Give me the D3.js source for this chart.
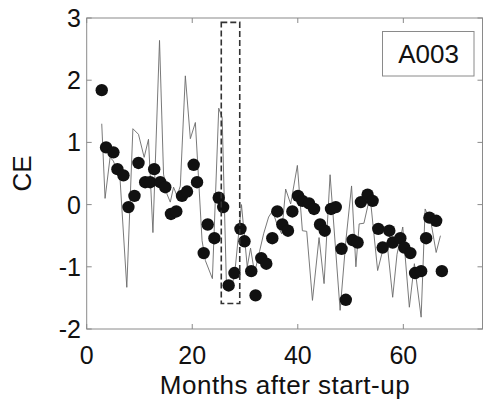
<!DOCTYPE html>
<meta charset="utf-8">
<style>
body { margin: 0; background: #fff; }
text { font-family: "Liberation Sans", Arial, sans-serif; fill: #111; }
</style>
<body>
<script src="https://d3js.org/d3.v7.min.js"></script>
<script>

// monthly CE values (thin line)
var lineMonths = [2.85, 3.48, 4.43, 5.06, 6.33, 7.6, 8.75, 9.81, 10.89, 11.71, 12.55, 13.8, 14.56, 15.21,
  15.84, 16.46, 17.11, 17.74, 18.69, 19.64, 20.59, 21.86, 22.49, 23.82, 25.02, 25.67, 26.48, 27.24, 28.0,
  29.33, 30.42, 31.05, 31.81, 32.76, 33.52, 34.47, 35.23, 35.99, 36.94, 37.7, 38.65, 39.92, 40.87, 41.69,
  42.78, 44.03, 44.98, 46.12, 48.02, 49.11, 50.19, 51.01, 51.63, 52.53, 53.35, 53.86, 55.13, 56.08, 56.9,
  57.98, 58.8, 59.89, 61.14, 62.09, 63.37, 64.13, 65.27, 66.22, 67.03];
var lineValues = [1.3, 0.1, 0.76, 0.7, 0.4, -1.33, 1.22, 1.13, 0.76, 1.05, -0.45, 2.64, 0.49, 0.17,
  0.04, 0.28, 0.14, 0.3, 2.07, 1.06, 1.32, -0.58, -0.9, -1.19, 1.55, 1.4, -1.3, -1.35, -1.15,
  0.0, -1.0, -0.7, -1.1, -0.75, -0.47, -0.2, -0.1, -0.3, -0.47, 0.25, 0.01, 0.63, -0.42, -0.43,
  -1.54, -0.53, -1.27, 0.48, -1.7, -0.58, 0.3, -1.0, -0.31, -0.3, 0.01, 0.0, -1.06, -0.74, -0.6,
  -1.49, -0.8, -0.36, -1.65, -0.95, -1.81, -0.07, -0.3, -0.77, -0.5];

// smoothed CE (dots)
var dotMonths = [2.85, 3.67, 5.06, 5.82, 6.96, 7.91, 9.05, 9.81, 11.08, 12.03, 12.79, 13.94, 14.89, 15.97,
  16.98, 18.06, 19.01, 20.27, 20.91, 22.17, 22.93, 24.2, 25.02, 25.86, 26.9, 28.0, 29.14, 29.9, 31.18,
  32.0, 33.08, 34.03, 35.17, 36.12, 37.07, 38.14, 38.97, 40.04, 40.87, 42.13, 43.08, 44.22, 45.11, 46.3,
  47.2, 48.29, 49.1, 50.38, 51.33, 51.96, 53.23, 54.18, 55.25, 56.08, 57.34, 57.98, 59.43, 60.19, 61.33,
  62.22, 63.37, 64.32, 64.94, 66.22, 67.3];
var dotValues = [1.84, 0.92, 0.84, 0.57, 0.47, -0.04, 0.14, 0.67, 0.36, 0.36, 0.57, 0.36, 0.28, -0.15,
  -0.11, 0.14, 0.21, 0.64, 0.36, -0.78, -0.32, -0.54, 0.11, -0.04, -1.3, -1.1, -0.39, -0.59, -1.07,
  -1.46, -0.86, -0.95, -0.54, -0.11, -0.32, -0.42, -0.11, 0.14, 0.06, 0.02, -0.07, -0.32, -0.42, -0.07,
  -0.04, -0.71, -1.53, -0.57, -0.61, 0.04, 0.16, 0.06, -0.39, -0.69, -0.42, -0.61, -0.54, -0.69, -0.78,
  -1.1, -1.07, -0.54, -0.21, -0.26, -1.07];

var xTicks = [0, 20, 40, 60];
var yTicks = [-2, -1, 0, 1, 2, 3];
var boxMonths = [25.5, 29.0];
var boxValues = [-1.59, 2.93];
var label = "A003";

var width = 484, height = 407;
var x = d3.scaleLinear().domain([0, 75]).range([86.7, 482.5]);
var y = d3.scaleLinear().domain([-2, 3]).range([329, 18]);

var svg = d3.select("body").append("svg")
    .attr("width", width)
    .attr("height", height);

// frame
svg.append("rect")
    .attr("x", x(0)).attr("y", y(3))
    .attr("width", x(75) - x(0)).attr("height", y(-2) - y(3))
    .attr("fill", "none").attr("stroke", "#8a8a8a").attr("stroke-width", 1);

// inward ticks, both sides
var tl = 5;
xTicks.forEach(function(t) {
  svg.append("line").attr("x1", x(t)).attr("x2", x(t)).attr("y1", y(-2)).attr("y2", y(-2) - tl)
    .attr("stroke", "#8a8a8a");
  svg.append("line").attr("x1", x(t)).attr("x2", x(t)).attr("y1", y(3)).attr("y2", y(3) + tl)
    .attr("stroke", "#8a8a8a");
  svg.append("text").attr("x", x(t)).attr("y", 364)
    .attr("text-anchor", "middle").attr("font-size", 25).text(t);
});
yTicks.forEach(function(t) {
  svg.append("line").attr("x1", x(0)).attr("x2", x(0) + tl).attr("y1", y(t)).attr("y2", y(t))
    .attr("stroke", "#8a8a8a");
  svg.append("line").attr("x1", x(75)).attr("x2", x(75) - tl).attr("y1", y(t)).attr("y2", y(t))
    .attr("stroke", "#8a8a8a");
  svg.append("text").attr("x", 81).attr("y", y(t)).attr("dy", "0.36em")
    .attr("text-anchor", "end").attr("font-size", 25).text(t);
});

// axis titles
svg.append("text").attr("x", 285).attr("y", 394)
    .attr("text-anchor", "middle").attr("font-size", 26)
    .attr("letter-spacing", 0.5).text("Months after start-up");
svg.append("text")
    .attr("transform", "translate(31," + ((y(3) + y(-2)) / 2) + ") rotate(-90)")
    .attr("text-anchor", "middle").attr("font-size", 26).text("CE");

// thin line
var line = d3.line()
    .x(function(d, i) { return x(lineMonths[i]); })
    .y(function(d) { return y(d); });
svg.append("path")
    .datum(lineValues)
    .attr("d", line)
    .attr("fill", "none")
    .attr("stroke", "#6a6a6a")
    .attr("stroke-width", 0.9);

// dots
svg.selectAll(".dot")
    .data(dotValues)
  .enter().append("circle")
    .attr("class", "dot")
    .attr("cx", function(d, i) { return x(dotMonths[i]); })
    .attr("cy", function(d) { return y(d); })
    .attr("r", 6.2)
    .attr("fill", "#111");

// dashed highlight box
svg.append("rect")
    .attr("x", x(boxMonths[0])).attr("y", y(boxValues[1]))
    .attr("width", x(boxMonths[1]) - x(boxMonths[0]))
    .attr("height", y(boxValues[0]) - y(boxValues[1]))
    .attr("fill", "none").attr("stroke", "#333")
    .attr("stroke-width", 1.6).attr("stroke-dasharray", "6,3");

// label box
svg.append("rect")
    .attr("x", 382.5).attr("y", 31.5).attr("width", 91.5).attr("height", 44.5)
    .attr("fill", "#fff").attr("stroke", "#8a8a8a");
svg.append("text").attr("x", 428.5).attr("y", 63)
    .attr("text-anchor", "middle").attr("font-size", 26).text(label);

</script>
</body>
